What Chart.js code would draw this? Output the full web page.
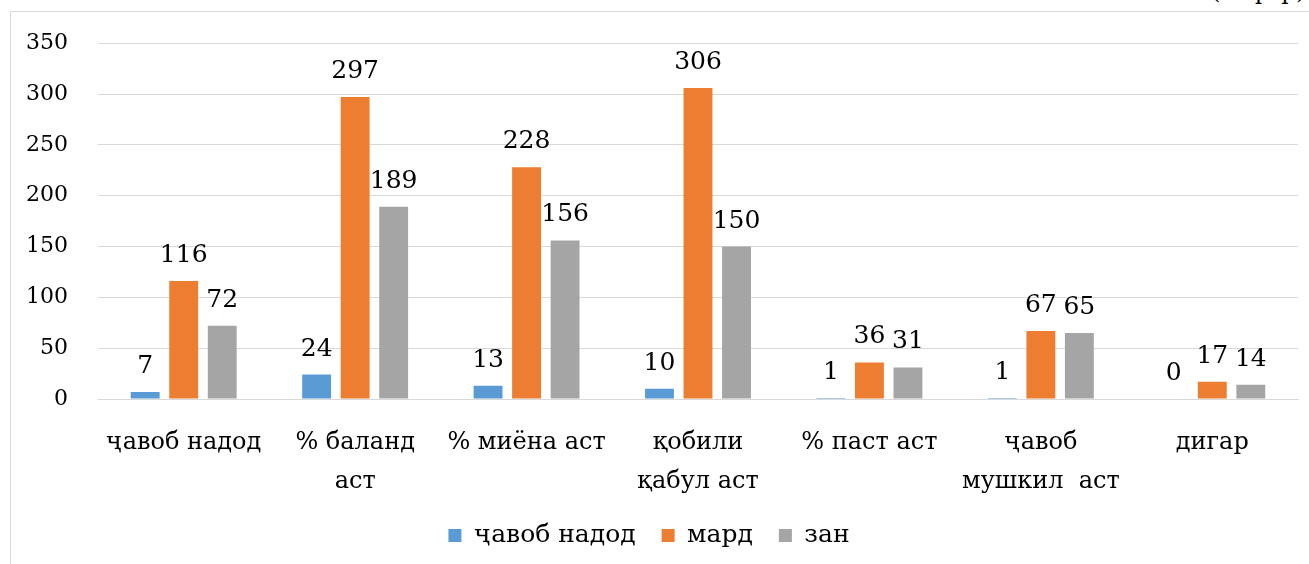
<!DOCTYPE html>
<html>
<head>
<meta charset="utf-8">
<script src="https://cdn.jsdelivr.net/npm/chart.js@4.4.1/dist/chart.umd.min.js"></script>
<style>
    html, body { margin: 0; padding: 0; background: #fff; overflow: hidden; }
    #wrap { position: relative; width: 1309px; height: 564px; }
    #frame { position: absolute; left: 10px; top: 11px; width: 1400px; height: 600px; border: 1px solid #d9d9d9; }
    #unit { position: absolute; right: 4px; top: -21px; font: 23px "DejaVu Serif", serif; color: #000; line-height: 24px; }
    canvas { position: absolute; left: 0; top: 0; }
</style>
</head>
<body>
<div id="wrap">
    <div id="frame"></div>
    <div id="unit">(нафар)</div>
    <canvas id="barChart" width="1309" height="564"></canvas>
</div>
<script>
// =====================
// DATA
// =====================
const categories = [
    'ҷавоб надод',
    ['% баланд', 'аст'],
    '% миёна аст',
    ['қобили', 'қабул аст'],
    '% паст аст',
    ['ҷавоб', 'мушкил  аст'],
    'дигар'
];
const seriesNames = ['ҷавоб надод', 'мард', 'зан'];
const noAnswer = [7, 24, 13, 10, 1, 1, 0];
const men      = [116, 297, 228, 306, 36, 67, 17];
const women    = [72, 189, 156, 150, 31, 65, 14];
const yTicks   = [0, 50, 100, 150, 200, 250, 300, 350];

const colors = ['#5b9bd5', '#ed7d31', '#a5a5a5'];
const FONT = 'DejaVu Serif, serif';

Chart.defaults.font.family = FONT;
Chart.defaults.color = '#000';

// value labels above each bar
const valueLabels = {
    id: 'valueLabels',
    afterDatasetsDraw(chart) {
        const ctx = chart.ctx;
        ctx.save();
        ctx.font = '25px ' + FONT;
        ctx.fillStyle = '#000';
        ctx.textAlign = 'center';
        ctx.textBaseline = 'alphabetic';
        chart.data.datasets.forEach((ds, i) => {
            const meta = chart.getDatasetMeta(i);
            meta.data.forEach((bar, j) => {
                ctx.fillText(String(ds.data[j]), bar.x, bar.y - 19);
            });
        });
        ctx.restore();
    }
};

new Chart(document.getElementById('barChart').getContext('2d'), {
    type: 'bar',
    data: {
        labels: categories,
        datasets: [
            { label: seriesNames[0], data: noAnswer, backgroundColor: colors[0] },
            { label: seriesNames[1], data: men,      backgroundColor: colors[1] },
            { label: seriesNames[2], data: women,    backgroundColor: colors[2] },
        ].map(d => Object.assign(d, { categoryPercentage: 0.674, barPercentage: 0.75, borderWidth: 0 }))
    },
    options: {
        responsive: false,
        animation: false,
        layout: { padding: { left: 0, right: 11, top: 39, bottom: 6 } },
        plugins: {
            legend: {
                position: 'bottom',
                labels: {
                    font: { family: FONT, size: 25 },
                    color: '#000',
                    boxWidth: 13,
                    boxHeight: 13,
                    padding: 26,
                }
            },
            tooltip: { enabled: false }
        },
        scales: {
            y: {
                min: 0,
                max: 350,
                afterBuildTicks: s => { s.ticks = yTicks.map(v => ({ value: v })); },
                afterFit: s => { s.width = 98; },
                ticks: {
                    font: { family: FONT, size: 22 },
                    color: '#000',
                    padding: 30,
                },
                grid: { color: '#d9d9d9', drawTicks: false },
                border: { display: false },
            },
            x: {
                afterFit: s => { s.height = 98; },
                ticks: {
                    font: { family: FONT, size: 24, lineHeight: 1.6 },
                    color: '#000',
                    padding: 17,
                    maxRotation: 0,
                    autoSkip: false,
                },
                grid: { display: false },
                border: { color: '#d9d9d9' },
            }
        }
    },
    plugins: [valueLabels]
});
</script>
</body>
</html>
